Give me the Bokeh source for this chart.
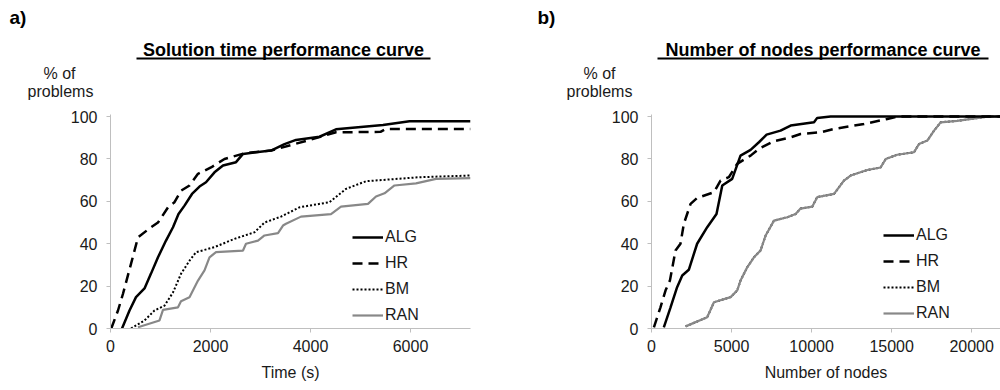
from bokeh.plotting import figure
from bokeh.layouts import row, column
from bokeh.models import FixedTicker, Legend, LegendItem, Range1d
from bokeh.core.properties import value
from bokeh.embed import file_html
from bokeh.resources import INLINE

# ---------------- data: panel a) solution time ----------------
time_alg = [230, 380, 510, 680, 810, 950, 1110, 1250, 1360, 1480, 1630, 1780, 1910, 2080,
            2250, 2510, 2650, 3210, 3480, 3710, 4180, 4510, 5450, 5980, 7200]
pct_alg_t = [0, 8.5, 14.8, 18.9, 25.9, 33.6, 41.5, 47.8, 54.0, 58.0, 63.5, 67.0, 69.0, 73.7,
             76.9, 78.5, 82.4, 84.0, 87.0, 89.0, 90.5, 94.0, 96.0, 97.8, 97.8]

time_hr = [15, 150, 250, 410, 550, 810, 950, 1150, 1280, 1410, 1580, 1750, 2010, 2280,
           2680, 3210, 3910, 4510, 5400, 5510, 7200]
pct_hr_t = [0, 8.5, 16.4, 30.5, 43.0, 47.8, 50.0, 57.2, 59.6, 65.0, 67.5, 73.0, 76.0, 80.0,
            82.7, 84.0, 88.5, 92.6, 92.8, 94.2, 94.2]

time_bm = [410, 680, 880, 1080, 1250, 1410, 1580, 1710, 2080, 2480, 2880, 3080, 3410, 3780,
           4380, 4710, 5110, 6180, 7200]
pct_bm_t = [0, 3.8, 8.5, 10.8, 17.0, 25.8, 32.0, 36.0, 38.4, 42.3, 45.4, 50.0, 52.8, 57.2,
            59.6, 65.9, 69.5, 71.4, 72.2]

time_ran = [550, 980, 1050, 1350, 1410, 1580, 1750, 1880, 1980, 2110, 2650, 2710, 2950, 3080,
            3350, 3450, 3510, 3810, 4410, 4610, 5150, 5310, 5480, 5680, 6110, 6510, 7200]
pct_ran_t = [0.6, 3.8, 8.8, 10.0, 12.9, 14.8, 22.6, 27.4, 33.6, 36.0, 36.8, 40.0, 41.5, 43.9,
             45.0, 48.6, 49.4, 52.8, 54.0, 57.5, 58.8, 62.3, 63.8, 67.5, 68.5, 70.6, 71.0]

# ---------------- data: panel b) number of nodes ----------------
nodes_alg = [770, 1190, 1600, 1920, 2330, 2850, 3480, 4060, 4420, 5040, 5560, 6190, 6710,
             7190, 8060, 8690, 10150, 10350, 11190, 21800]
pct_alg_n = [0.5, 10.0, 19.5, 25.0, 27.7, 40.0, 47.8, 54.0, 67.5, 70.6, 81.6, 84.3, 87.9,
             91.5, 93.4, 95.8, 97.3, 99.4, 100, 100]

nodes_hr = [150, 560, 880, 1150, 1500, 1810, 2020, 2440, 2850, 3900, 4310, 4830, 5350, 6190,
            6710, 7650, 8690, 9310, 10560, 11400, 13270, 14730, 15350, 21800]
pct_hr_n = [0.5, 10.0, 18.0, 22.6, 36.8, 40.0, 49.4, 58.8, 61.6, 64.3, 69.8, 71.4, 77.7, 81.6,
            84.8, 88.4, 90.2, 91.8, 92.6, 94.2, 96.5, 98.9, 100, 100]

# BM coincides with RAN in panel b)
nodes_bm = [2130, 3480, 3900, 4940, 5350, 5560, 5980, 6400, 6810, 7130, 7650, 8480, 9000, 9310,
            10040, 10350, 11400, 12020, 12440, 13480, 14310, 14630, 15350, 16400, 16710, 17230,
            17650, 18060, 19100, 20980, 21800]
pct_bm_n = [1.0, 5.3, 12.4, 14.8, 17.9, 22.6, 28.9, 33.6, 36.8, 43.9, 50.9, 52.5, 54.0, 56.6,
            57.5, 62.0, 63.5, 69.8, 72.2, 74.8, 76.0, 80.0, 82.0, 83.2, 87.1, 88.7,
            93.4, 97.3, 98.0, 100, 100]

nodes_ran = [2130, 3480, 3900, 4940, 5350, 5560, 5980, 6400, 6810, 7130, 7650, 8480, 9000, 9310,
             10040, 10350, 11400, 12020, 12440, 13480, 14310, 14630, 15350, 16400, 16710, 17230,
             17650, 18060, 19100, 20980, 21800]
pct_ran_n = [1.0, 5.3, 12.4, 14.8, 17.9, 22.6, 28.9, 33.6, 36.8, 43.9, 50.9, 52.5, 54.0, 56.6,
             57.5, 62.0, 63.5, 69.8, 72.2, 74.8, 76.0, 80.0, 82.0, 83.2, 87.1, 88.7,
             93.4, 97.3, 98.0, 100, 100]

series_names = ["ALG", "HR", "BM", "RAN"]
y_ticks = [0, 20, 40, 60, 80, 100]
x_ticks_time = [0, 2000, 4000, 6000]
x_ticks_nodes = [0, 5000, 10000, 15000, 20000]

panel_tags = ["a)", "b)"]
panel_titles = ["Solution time performance curve", "Number of nodes performance curve"]
y_title_lines = ["% of", "problems"]

FONT = "Liberation Sans"
AXIS_GRAY = "#bfbfbf"
TXT = "#1a1a1a"


def make_fig(border_left, border_right, x_end, x_ticks, x_label):
    p = figure(width=500, height=290, output_backend="svg", toolbar_location=None,
               x_range=Range1d(0, x_end), y_range=Range1d(0, 101),
               min_border_left=border_left, min_border_right=border_right,
               min_border_top=14, min_border_bottom=62)
    p.outline_line_color = None
    p.xgrid.visible = False
    p.ygrid.visible = False
    p.xaxis.ticker = FixedTicker(ticks=x_ticks)
    p.yaxis.ticker = FixedTicker(ticks=y_ticks)
    for ax in (p.xaxis, p.yaxis):
        ax.axis_line_color = AXIS_GRAY
        ax.major_tick_line_color = AXIS_GRAY
        ax.major_tick_in = 0
        ax.major_tick_out = 4
        ax.minor_tick_line_color = None
        ax.major_label_text_font = FONT
        ax.major_label_text_font_size = "16px"
        ax.major_label_text_color = TXT
    p.yaxis.major_label_standoff = 9
    p.xaxis.major_label_standoff = 7
    p.xaxis.axis_label = x_label
    p.xaxis.axis_label_text_font = FONT
    p.xaxis.axis_label_text_font_size = "16px"
    p.xaxis.axis_label_text_font_style = "normal"
    p.xaxis.axis_label_text_color = TXT
    p.xaxis.axis_label_standoff = 9
    return p


def add_series(p, data, legend_loc):
    styles = {
        "ALG": dict(line_color="black", line_width=2.5),
        "HR": dict(line_color="black", line_width=2.5, line_dash="10 6"),
        "BM": dict(line_color="black", line_width=2.0, line_dash="2 2"),
        "RAN": dict(line_color="#888888", line_width=2.2),
    }
    rends = {}
    for name in ["BM", "RAN", "HR", "ALG"]:
        xs, ys = data[name]
        rends[name] = p.line(xs, ys, **styles[name])
    items = [LegendItem(label=n, renderers=[rends[n]]) for n in series_names]
    leg = Legend(items=items, location=legend_loc, background_fill_alpha=0,
                 border_line_alpha=0, padding=0, margin=0, spacing=8,
                 glyph_width=31, glyph_height=18, label_standoff=2, label_height=18,
                 label_text_font=FONT, label_text_font_size="16px", label_text_color=TXT)
    p.add_layout(leg)


# header strip (titles, panel tags, y-axis caption) in pixel coordinates
H = 100
head = figure(width=1000, height=H, output_backend="svg", toolbar_location=None,
              x_range=Range1d(0, 1000), y_range=Range1d(H, 0),
              min_border=0, x_axis_location=None, y_axis_location=None)
head.outline_line_color = None
head.xgrid.visible = False
head.ygrid.visible = False

head.text(x=[9, 537], y=[16.5, 16.5], text=panel_tags, text_font=value(FONT),
          text_font_size=value("19px"), text_font_style="bold", text_color="black",
          text_align="left", text_baseline="middle")
head.text(x=[283, 822.5], y=[49.4, 49.4], text=panel_titles, text_font=value(FONT),
          text_font_size=value("18px"), text_font_style="bold", text_color="black",
          text_align="center", text_baseline="middle")
head.segment(x0=[136, 657], y0=[58, 58], x1=[430, 988], y1=[58, 58],
             line_color="black", line_width=2)
head.text(x=[59, 60, 599, 599], y=[73, 91, 73, 91],
          text=y_title_lines + y_title_lines, text_font=value(FONT),
          text_font_size=value("16px"), text_color=TXT,
          text_align="center", text_baseline="middle")

# panel a
pa = make_fig(110, 30, 7200, x_ticks_time, "Time (s)")
add_series(pa, {"ALG": (time_alg, pct_alg_t), "HR": (time_hr, pct_hr_t),
                "BM": (time_bm, pct_bm_t), "RAN": (time_ran, pct_ran_t)}, (242, 4))

# panel b
pb = make_fig(151, 0, 21800, x_ticks_nodes, "Number of nodes")
add_series(pb, {"ALG": (nodes_alg, pct_alg_n), "HR": (nodes_hr, pct_hr_n),
                "BM": (nodes_bm, pct_bm_n), "RAN": (nodes_ran, pct_ran_n)}, (232, 6))

layout = column(head, row(pa, pb), spacing=0)
open("out.html", "w").write(file_html(layout, INLINE))
